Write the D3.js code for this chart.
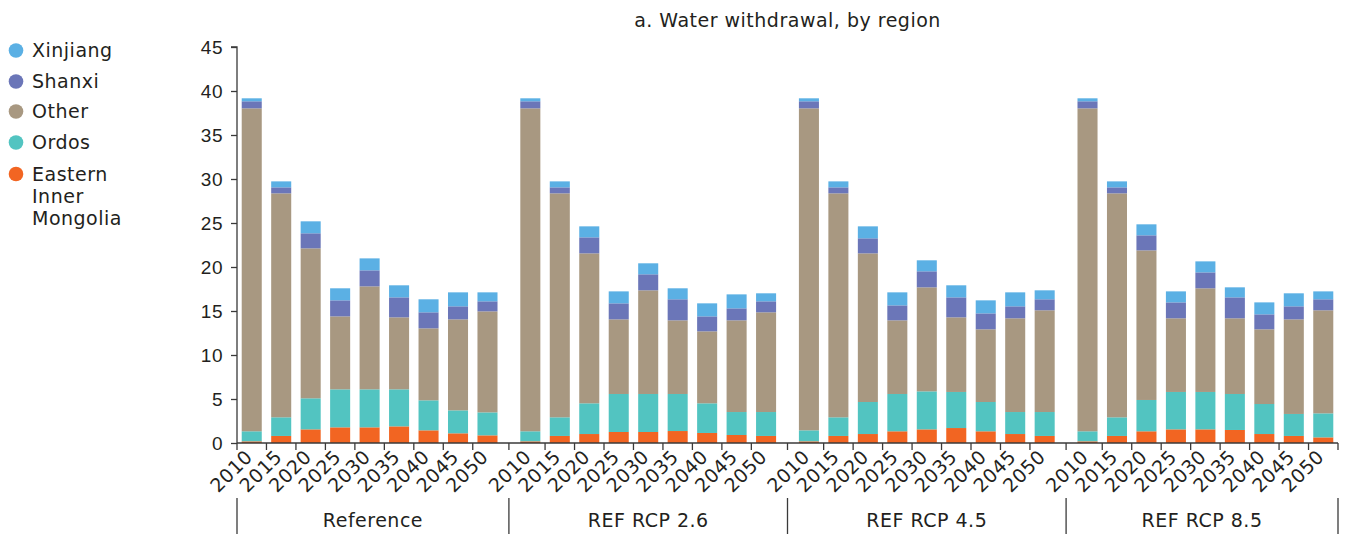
<!DOCTYPE html>
<html>
<head>
<meta charset="utf-8">
<script src="https://cdn.jsdelivr.net/npm/d3@7"></script>
<style>
  html, body { margin: 0; padding: 0; background: #fff; }
  svg { display: block; font-family: "DejaVu Sans", "Liberation Sans", Arial, sans-serif; }
  svg text { letter-spacing: 0.5px; }
</style>
</head>
<body>
<svg id="chart" width="1348" height="534"></svg>
<script>
const title = "a. Water withdrawal, by region";
const scenarios = ["Reference", "REF RCP 2.6", "REF RCP 4.5", "REF RCP 8.5"];
const years = ["2010", "2015", "2020", "2025", "2030", "2035", "2040", "2045", "2050"];
const regionKeys = ["Eastern Inner Mongolia", "Ordos", "Other", "Shanxi", "Xinjiang"];
const legendOrder = ["Xinjiang", "Shanxi", "Other", "Ordos", "Eastern Inner Mongolia"];
const legendLines = { "Eastern Inner Mongolia": ["Eastern", "Inner", "Mongolia"] };
const colors = ["#F26522", "#52C4C1", "#A89881", "#6B76B8", "#5BB0E4"];
const yTicks = [0, 5, 10, 15, 20, 25, 30, 35, 40, 45];

// values per scenario (Reference, RCP 2.6, RCP 4.5, RCP 8.5) x years
const easternInnerMongolia = [
  0.19, 0.80, 1.55, 1.78, 1.78, 1.89, 1.44, 1.10, 0.87,
  0.19, 0.80, 1.02, 1.25, 1.25, 1.36, 1.14, 0.91, 0.80,
  0.19, 0.80, 1.02, 1.33, 1.55, 1.70, 1.33, 1.02, 0.80,
  0.19, 0.80, 1.33, 1.55, 1.55, 1.48, 1.02, 0.80, 0.64];
const ordos = [
  1.14, 2.12, 3.53, 4.32, 4.32, 4.21, 3.41, 2.61, 2.61,
  1.14, 2.12, 3.49, 4.32, 4.32, 4.21, 3.37, 2.61, 2.72,
  1.25, 2.12, 3.64, 4.24, 4.32, 4.10, 3.33, 2.50, 2.72,
  1.14, 2.12, 3.56, 4.25, 4.25, 4.09, 3.41, 2.50, 2.73];
const other = [
  36.70, 25.45, 17.04, 8.29, 11.70, 8.18, 8.18, 10.34, 11.48,
  36.70, 25.45, 17.04, 8.48, 11.78, 8.37, 8.18, 10.42, 11.33,
  36.59, 25.45, 16.89, 8.37, 11.82, 8.48, 8.26, 10.65, 11.56,
  36.70, 25.45, 17.00, 8.37, 11.78, 8.60, 8.49, 10.75, 11.71];
const shanxi = [
  0.80, 0.68, 1.71, 1.82, 1.82, 2.27, 1.82, 1.48, 1.14,
  0.80, 0.68, 1.82, 1.82, 1.82, 2.39, 1.70, 1.36, 1.25,
  0.80, 0.68, 1.71, 1.70, 1.82, 2.27, 1.81, 1.36, 1.25,
  0.80, 0.68, 1.71, 1.81, 1.81, 2.38, 1.70, 1.48, 1.25];
const xinjiang = [
  0.34, 0.68, 1.36, 1.37, 1.36, 1.37, 1.48, 1.59, 1.02,
  0.34, 0.68, 1.25, 1.36, 1.25, 1.25, 1.48, 1.59, 0.91,
  0.34, 0.68, 1.36, 1.48, 1.25, 1.37, 1.48, 1.59, 1.02,
  0.34, 0.68, 1.25, 1.25, 1.25, 1.14, 1.36, 1.48, 0.90];

const seriesValues = [easternInnerMongolia, ordos, other, shanxi, xinjiang];

(function () {
const rows = [];
scenarios.forEach((s, si) => {
  years.forEach((yr, yi) => {
    const idx = si * years.length + yi;
    const row = { scenario: s, year: yr };
    regionKeys.forEach((k, ki) => { row[k] = seriesValues[ki][idx]; });
    rows.push(row);
  });
});

const svg = d3.select("#chart");
const pLeft = 237, pRight = 1338, pTop = 47, pBottom = 443;
const fontSize = 19;
const textColor = "#231F20";
const axisColor = "#3a3a3a";

const x0 = d3.scaleBand().domain(scenarios).range([pLeft, pRight]).paddingInner(0.048).paddingOuter(0);
const x1 = d3.scaleBand().domain(years).range([0, x0.bandwidth()]).paddingInner(0.32).paddingOuter(0.16);
const y = d3.scaleLinear().domain([0, 45]).range([pBottom, pTop]);

const stacked = d3.stack().keys(regionKeys)(rows);

const g = svg.append("g");
stacked.forEach((layer, li) => {
  g.selectAll(null).data(layer).enter().append("rect")
    .attr("x", d => x0(d.data.scenario) + x1(d.data.year))
    .attr("width", x1.bandwidth())
    .attr("y", d => y(d[1]))
    .attr("height", d => y(d[0]) - y(d[1]))
    .attr("fill", colors[li]);
});

const yAxis = d3.axisLeft(y).tickValues(yTicks).tickSize(6).tickPadding(8).tickFormat(d3.format("d"));
const ya = svg.append("g").attr("transform", `translate(${pLeft},0)`).call(yAxis);
ya.select(".domain").attr("stroke", axisColor).attr("stroke-width", 1.3).attr("d", `M-6,${pTop}H0V${pBottom}`);
ya.selectAll(".tick line").attr("stroke", axisColor).attr("stroke-width", 1.3);
ya.selectAll(".tick text").attr("font-size", fontSize).attr("fill", textColor).attr("font-family", null);

svg.append("line").attr("x1", pLeft).attr("x2", pRight).attr("y1", pBottom).attr("y2", pBottom)
  .attr("stroke", axisColor).attr("stroke-width", 1.5);

const step = x1.step();
const gap = x0.step() - x0.bandwidth();
const tickXs = [];
scenarios.forEach((s, si) => {
  const gx = x0(s);
  tickXs.push(si === 0 ? pLeft : gx - gap / 2);
  for (let k = 1; k < years.length; k++) tickXs.push(gx + k * step);
});
tickXs.push(pRight);
svg.append("g").selectAll("line").data(tickXs).enter().append("line")
  .attr("x1", d => d).attr("x2", d => d).attr("y1", pBottom).attr("y2", pBottom + 7)
  .attr("stroke", axisColor).attr("stroke-width", 1.3);

const xl = svg.append("g");
rows.forEach(r => {
  const cx = x0(r.scenario) + x1(r.year) + x1.bandwidth() / 2;
  xl.append("text")
    .attr("transform", `translate(${cx + 2},${pBottom + 15}) rotate(-45)`)
    .attr("text-anchor", "end")
    .attr("font-size", fontSize).attr("fill", textColor)
    .text(r.year);
});

const seps = [pLeft];
scenarios.forEach((s, si) => { if (si > 0) seps.push(x0(s) - gap / 2); });
seps.push(pRight);
svg.append("g").selectAll("line").data(seps).enter().append("line")
  .attr("x1", d => d).attr("x2", d => d).attr("y1", 498).attr("y2", 534)
  .attr("stroke", axisColor).attr("stroke-width", 1.3);
scenarios.forEach((s, si) => {
  svg.append("text")
    .attr("x", (seps[si] + seps[si + 1]) / 2).attr("y", 527)
    .attr("text-anchor", "middle").attr("font-size", fontSize).attr("fill", textColor)
    .text(s);
});

svg.append("text").attr("x", (pLeft + pRight) / 2).attr("y", 27)
  .attr("text-anchor", "middle").attr("font-size", fontSize).attr("fill", textColor)
  .text(title);

const legendY = [50.5, 81.5, 111.5, 142.5, 174];
legendOrder.forEach((name, i) => {
  const ci = regionKeys.indexOf(name);
  svg.append("circle").attr("cx", 16).attr("cy", legendY[i]).attr("r", 7.3).attr("fill", colors[ci]);
  const lines = legendLines[name] || [name];
  const t = svg.append("text").attr("x", 32).attr("y", legendY[i] + 6.5)
    .attr("font-size", fontSize).attr("fill", textColor);
  lines.forEach((ln, j) => {
    t.append("tspan").attr("x", 32).attr("dy", j === 0 ? 0 : 22).text(ln);
  });
});
})();
</script>
</body>
</html>
